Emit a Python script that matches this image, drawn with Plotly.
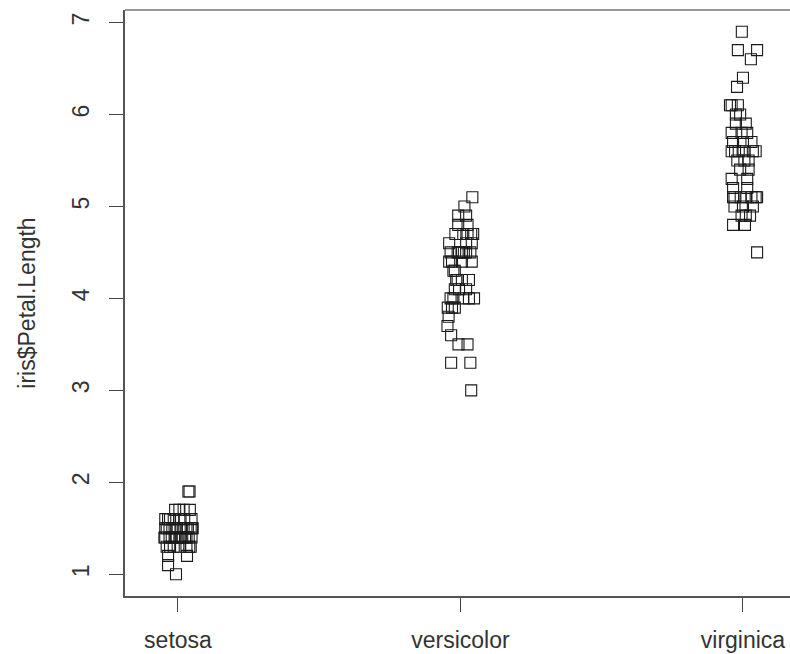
import plotly.graph_objects as go

# Iris petal lengths by species
species = ["setosa", "versicolor", "virginica"]

setosa = [1.4, 1.4, 1.3, 1.5, 1.4, 1.7, 1.4, 1.5, 1.4, 1.5, 1.5, 1.6, 1.4, 1.1, 1.2,
          1.5, 1.3, 1.4, 1.7, 1.5, 1.7, 1.5, 1.0, 1.7, 1.9, 1.6, 1.6, 1.5, 1.4, 1.6,
          1.6, 1.5, 1.5, 1.4, 1.5, 1.2, 1.3, 1.4, 1.3, 1.5, 1.3, 1.3, 1.3, 1.6, 1.9,
          1.4, 1.6, 1.4, 1.5, 1.4]
versicolor = [4.7, 4.5, 4.9, 4.0, 4.6, 4.5, 4.7, 3.3, 4.6, 3.9, 3.5, 4.2, 4.0, 4.7, 3.6,
              4.4, 4.5, 4.1, 4.5, 3.9, 4.8, 4.0, 4.9, 4.7, 4.3, 4.4, 4.8, 5.0, 4.5, 3.5,
              3.8, 3.7, 3.9, 5.1, 4.5, 4.5, 4.7, 4.4, 4.1, 4.0, 4.4, 4.6, 4.0, 3.3, 4.2,
              4.2, 4.2, 4.3, 3.0, 4.1]
virginica = [6.0, 5.1, 5.9, 5.6, 5.8, 6.6, 4.5, 6.3, 5.8, 6.1, 5.1, 5.3, 5.5, 5.0, 5.1,
             5.3, 5.5, 6.7, 6.9, 5.0, 5.7, 4.9, 6.7, 4.9, 5.7, 6.0, 4.8, 4.9, 5.6, 5.8,
             6.1, 6.4, 5.6, 5.1, 5.6, 6.1, 5.6, 5.5, 4.8, 5.4, 5.6, 5.1, 5.1, 5.9, 5.7,
             5.2, 5.0, 5.2, 5.4, 5.1]

# Horizontal jitter of each point (in category units)
setosa_jit = [-0.030, 0.010, -0.040, 0.045, -0.012, 0.020, 0.038, -0.045, 0.005, -0.020,
              0.030, -0.035, -0.045, -0.035, -0.035, 0.012, 0.040, 0.025, -0.010, 0.050,
              0.042, -0.030, -0.007, 0.005, 0.037, 0.022, -0.045, -0.005, -0.022, 0.048,
              -0.015, 0.035, -0.040, 0.048, 0.020, 0.032, -0.015, -0.048, 0.045, -0.012,
              -0.028, 0.008, 0.030, 0.005, 0.041, 0.015, -0.028, 0.030, 0.052, -0.005]
versicolor_jit = [0.025, -0.010, -0.008, -0.025, 0.040, 0.005, 0.038, -0.033, -0.040, -0.045,
                  -0.007, -0.015, 0.048, 0.010, -0.033, -0.030, 0.020, -0.020, -0.035, -0.030,
                  0.025, 0.030, 0.020, 0.045, -0.020, 0.040, -0.008, 0.014, 0.035, 0.025,
                  -0.042, -0.046, -0.020, 0.042, -0.005, 0.012, -0.018, 0.005, 0.020, 0.010,
                  -0.040, 0.020, -0.035, 0.035, 0.030, -0.010, 0.005, -0.025, 0.038, -0.005]
virginica_jit = [-0.010, 0.030, 0.010, 0.045, -0.040, 0.028, 0.050, -0.021, -0.005, -0.046,
                 -0.035, -0.040, 0.020, -0.030, 0.045, 0.015, -0.020, -0.018, -0.004, 0.035,
                 0.000, -0.005, 0.050, 0.010, -0.035, -0.025, -0.035, 0.025, 0.035, 0.015,
                 -0.018, 0.000, -0.040, -0.030, 0.002, -0.040, -0.015, 0.005, 0.007, 0.020,
                 -0.028, 0.050, -0.008, -0.025, 0.030, 0.015, 0.000, -0.035, -0.010, 0.012]

groups = [setosa, versicolor, virginica]
jitters = [setosa_jit, versicolor_jit, virginica_jit]

fig = go.Figure()
for i, (vals, jit) in enumerate(zip(groups, jitters)):
    fig.add_trace(go.Scatter(
        x=[i + 1 + j for j in jit],
        y=vals,
        mode="markers",
        marker=dict(symbol="square-open", size=11, color="#1a1a1a",
                    line=dict(width=1.1, color="#1a1a1a")),
        showlegend=False,
        hoverinfo="y",
    ))

font = dict(family="Liberation Sans, Arial, sans-serif", size=23, color="#333333")

fig.update_layout(
    width=790, height=654,
    margin=dict(l=125, r=0, t=10, b=58),
    paper_bgcolor="white", plot_bgcolor="white",
    font=font,
    xaxis=dict(
        range=[0.8125, 3.1665],
        tickmode="array", tickvals=[1, 2, 3], ticktext=species,
        showgrid=False, zeroline=False,
        showline=True, linecolor="#555555", linewidth=1.5,
        ticks="outside", ticklen=14, tickwidth=1, tickcolor="#444444",
        ticklabelstandoff=9,
        tickfont=font,
    ),
    yaxis=dict(
        range=[0.764, 7.136],
        tickmode="array", tickvals=[1, 2, 3, 4, 5, 6, 7],
        ticktext=["1", "2", "3", "4", "5", "6", "7"],
        tickangle=-90,
        showgrid=False, zeroline=False,
        showline=True, linecolor="#555555", linewidth=2,
        ticks="outside", ticklen=14, tickwidth=1, tickcolor="#444444",
        ticklabelstandoff=11,
        tickfont=font,
        title=dict(text="iris$Petal.Length", font=font, standoff=26),
    ),
    shapes=[
        dict(type="line", xref="paper", yref="paper", x0=0, x1=1, y0=1, y1=1,
             line=dict(color="#999999", width=2)),
    ],
)

fig.write_html("out.html")
